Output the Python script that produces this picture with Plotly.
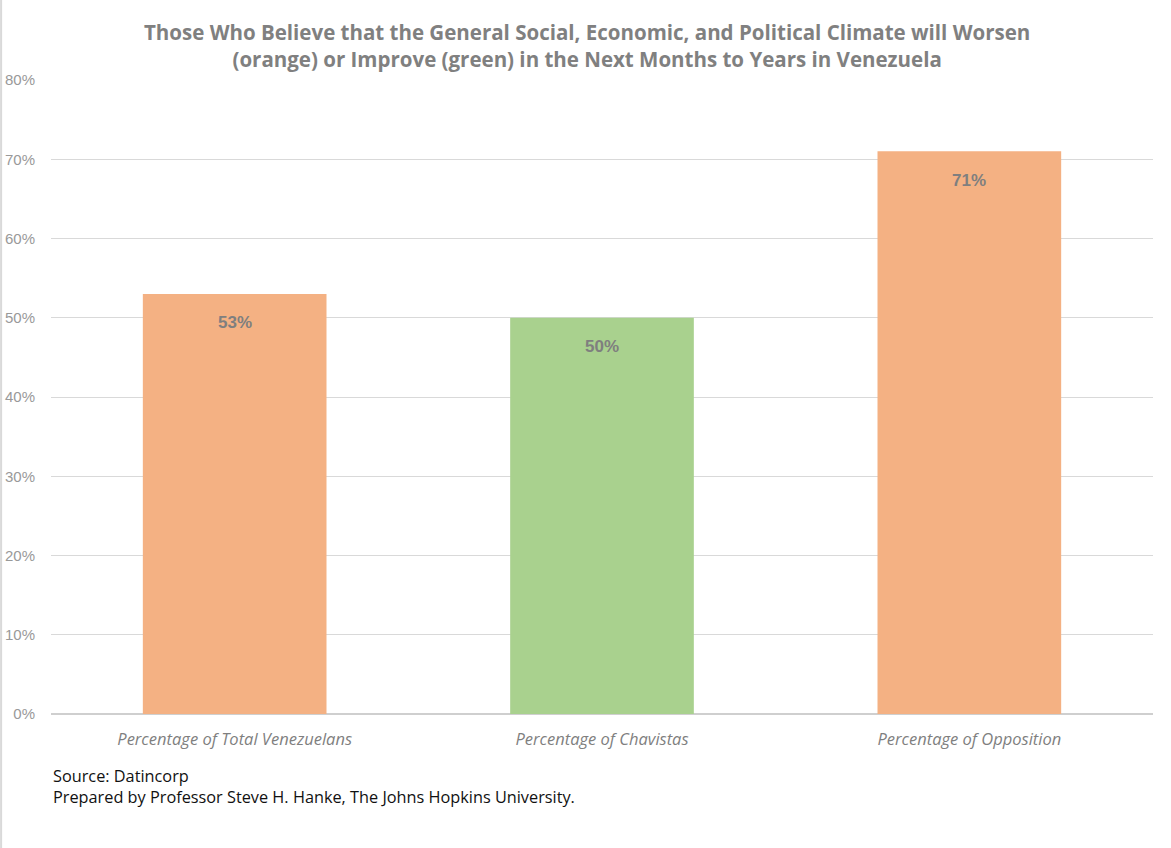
import plotly.graph_objects as go

categories = ["Percentage of Total Venezuelans", "Percentage of Chavistas", "Percentage of Opposition"]
values = [53, 50, 71]
bar_colors = ["#F4B183", "#A9D18E", "#F4B183"]
tick_vals = [0, 10, 20, 30, 40, 50, 60, 70, 80]
tick_text = [f"{v}%" for v in tick_vals]

W, H = 1171, 848
ML, MR, MT, MB = 51, 18, 80, 134
PH = H - MT - MB

fig = go.Figure(
    go.Bar(
        x=categories,
        y=values,
        width=0.5,
        marker=dict(color=bar_colors, line=dict(width=0)),
        hoverinfo="x+y",
    )
)

# value labels sit inside each bar, a little below its top
value_labels = [
    dict(
        x=c, y=v, xref="x", yref="y",
        text=f"{v}%",
        showarrow=False,
        yanchor="middle",
        yshift=-29,
        font=dict(family="Liberation Sans, Arial", size=17, color="#7f7f7f", weight="bold"),
    )
    for c, v in zip(categories, values)
]

fig.update_layout(
    width=W,
    height=H,
    margin=dict(l=ML, r=MR, t=MT, b=MB, autoexpand=False),
    paper_bgcolor="white",
    plot_bgcolor="white",
    showlegend=False,
    xaxis=dict(
        showgrid=False,
        showline=False,
        ticks="",
        tickfont=dict(family="Open Sans", size=16.5, color="#7f7f7f", style="italic"),
        ticklabelstandoff=13,
        automargin=False,
    ),
    yaxis=dict(
        range=[0, 80],
        tickvals=tick_vals,
        ticktext=tick_text,
        showgrid=True,
        gridcolor="#d9d9d9",
        gridwidth=1.3,
        zeroline=True,
        zerolinecolor="#cfcfcf",
        zerolinewidth=1.6,
        showline=False,
        ticks="",
        tickfont=dict(family="Liberation Sans, Arial", size=15, color="#999999"),
        ticklabelstandoff=15,
        automargin=False,
    ),
    annotations=value_labels + [
        dict(
            text="Those Who Believe that the General Social, Economic, and Political Climate will Worsen<br>(orange) or Improve (green) in the Next Months to Years in Venezuela",
            xref="paper", yref="paper",
            x=(587 - ML) / (W - ML - MR), y=1 + (MT - 16) / PH,
            xanchor="center", yanchor="top",
            showarrow=False,
            align="center",
            font=dict(family="Open Sans", size=20.5, color="#808080", weight="bold"),
        ),
        dict(
            text="Source: Datincorp<br>Prepared by Professor Steve H. Hanke, The Johns Hopkins University.",
            xref="paper", yref="paper",
            x=0.0, y=-(763 - (H - MB)) / PH,
            xanchor="left", yanchor="top",
            showarrow=False,
            align="left",
            font=dict(family="Open Sans", size=16.3, color="#111111"),
        ),
    ],
    shapes=[
        dict(type="line", xref="paper", yref="paper",
             x0=-ML / (W - ML - MR) + 0.001, x1=-ML / (W - ML - MR) + 0.001,
             y0=-MB / PH, y1=1 + MT / PH,
             line=dict(color="#d9d9d9", width=2)),
    ],
)

fig.write_html("out.html")
